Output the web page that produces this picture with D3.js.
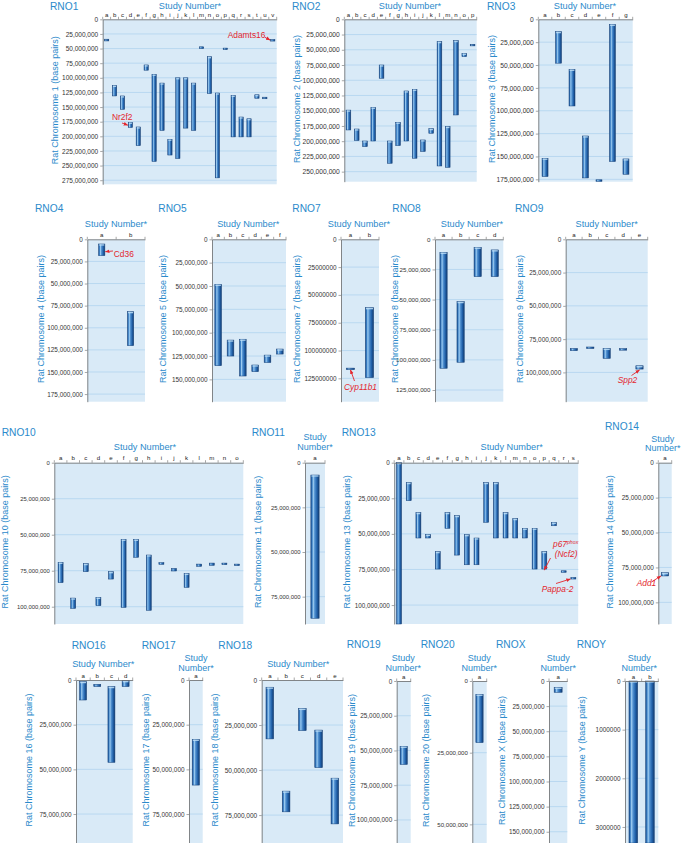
<!DOCTYPE html>
<html><head><meta charset="utf-8">
<script src="https://cdnjs.cloudflare.com/ajax/libs/d3/7.8.5/d3.min.js"></script>
<style>body{margin:0;background:#fff}text{font-family:"Liberation Sans",Arial,sans-serif}</style>
</head><body><svg id="c" width="683" height="843"></svg>
<script>
// ===== DATA (start / end positions in Mbp) =====
const rno1Studies = "abcdefghijklmnopqrstuv".split("");
const rno1Start = [34, 113, 131, 176, 184, 78, 94, 109, 205, 100, 100, 109, 47, 64, 126, 49.2, 130, 167, 170, 129, 133.1, 34.5];
const rno1End   = [37, 131, 154, 185, 216, 87, 243, 190, 232, 238, 186, 190, 50.2, 127, 271, 50.2, 201, 201, 201, 135, 134.0, 37];
const rno2Studies = "abcdefghijklmnop".split("");
const rno2Start = [149, 180, 199.7, 144.4, 75, 199.7, 169, 117.6, 114.9, 198, 179.4, 36.7, 176, 35, 55.8, 41];
const rno2End   = [181.6, 199, 209, 199.7, 96.8, 236.3, 207.3, 199.7, 228, 217, 187, 240.7, 243, 157, 61.3, 43.5];
const rno3Studies = "abcdefg".split("");
const rno3Start = [152, 13.5, 54.7, 127.6, 175.5, 5.5, 152.7];
const rno3End   = [172, 48, 94.8, 173.5, 177, 155.6, 169.5];
const rno4Studies = ["a", "b"];
const rno4Start = [5.3, 81.8];
const rno4End   = [18.5, 120.3];
const rno5Studies = "abcdef".split("");
const rno5Start = [48.2, 107.9, 107, 134.6, 124, 117.5];
const rno5End   = [135.4, 125, 146.4, 141.8, 132, 122.9];
const rno7Studies = ["a", "b"];
const rno7Start = [115.8, 61.5];
const rno7End   = [116.6, 124.4];
const rno8Studies = "abcd".split("");
const rno8Start = [10.8, 51.7, 6.6, 8.8];
const rno8End   = [107, 102, 31, 31];
const rno9Studies = "abcde".split("");
const rno9Start = [82, 80.9, 82, 82.1, 95];
const rno9End   = [83.7, 81.6, 89.5, 82.9, 97.5];
const rno10Studies = "abcdefghijklmno".split("");
const rno10Start = [69.2, 94, 70.1, 93.5, 75.7, 53.2, 53.2, 64.1, 69.4, 73.4, 76.9, 70.4, 69.7, 69.7, 70.4];
const rno10End   = [83.3, 101.2, 75.7, 99.3, 80.8, 100.5, 65.7, 102.5, 70.6, 75.2, 86.6, 72, 71.3, 70.8, 70.9];
const rno11Studies = ["a"];
const rno11Start = [6.9];
const rno11End   = [87.1];
const rno13Studies = "abcdefghijklmnopqrs".split("");
const rno13Start = [0, 14, 35.1, 50.4, 62.5, 35.1, 37.2, 50.6, 52.9, 14, 14, 35.1, 39.3, 46.1, 46.1, 62.5, 41.9, 75.9, 80.6];
const rno13End   = [113.3, 26.7, 52.9, 52.9, 74.7, 46.1, 64.9, 71.7, 71.7, 41.9, 52.9, 52.9, 52.9, 52.9, 74.7, 74.7, 44.3, 77, 81.7];
const rno14Studies = ["a"];
const rno14Start = [78.8];
const rno14End   = [81.1];
const rno16Studies = "abcd".split("");
const rno16Start = [0.9, 2.4, 3.7, 0.4];
const rno16End   = [11.2, 3.7, 46.1, 3.7];
const rno17Studies = ["a"];
const rno17Start = [33.2];
const rno17End   = [58.8];
const rno18Studies = "abcde".split("");
const rno18Start = [4, 61.7, 15.8, 27.8, 54.5];
const rno18End   = [32.7, 73.2, 28.1, 48.7, 79.9];
const rno19Studies = ["a"];
const rno19Start = [47];
const rno19End   = [60.1];
const rno20Studies = ["a"];
const rno20Start = [4.65];
const rno20End   = [21.5];
const rnoXStudies = ["a"];
const rnoXStart = [6.3];
const rnoXEnd   = [11.3];
const rnoYStudies = ["a", "b"];
const rnoYStart = [0, 0];
const rnoYEnd   = [3.34, 3.34];

// chromosome labels and axis extents (Mbp) / tick steps (Mbp)
const chromNames = ["1","2","3","4","5","7","8","9","10","11","13","14","16","17","18","19","20","X","Y"];
const axisMax  = [282, 266.5, 177.6, 183.6, 173.9, 146, 134.7, 122, 112, 90.3, 113.3, 115.5, 91.2, 91.2, 90.5, 116.6, 56.5, 161.2, 3.33];
const tickStep = [25, 25, 25, 25, 25, 25, 25, 25, 25, 25, 25, 25, 25, 25, 25, 25, 25, 25, 1];
const useComma = [1,1,1,1,1,0,1,1,1,1,1,1,1,1,1,1,1,1,0];
const seriesData = [
  [rno1Studies, rno1Start, rno1End], [rno2Studies, rno2Start, rno2End], [rno3Studies, rno3Start, rno3End],
  [rno4Studies, rno4Start, rno4End], [rno5Studies, rno5Start, rno5End], [rno7Studies, rno7Start, rno7End],
  [rno8Studies, rno8Start, rno8End], [rno9Studies, rno9Start, rno9End], [rno10Studies, rno10Start, rno10End],
  [rno11Studies, rno11Start, rno11End], [rno13Studies, rno13Start, rno13End], [rno14Studies, rno14Start, rno14End],
  [rno16Studies, rno16Start, rno16End], [rno17Studies, rno17Start, rno17End], [rno18Studies, rno18Start, rno18End],
  [rno19Studies, rno19Start, rno19End], [rno20Studies, rno20Start, rno20End], [rnoXStudies, rnoXStart, rnoXEnd],
  [rnoYStudies, rnoYStart, rnoYEnd]
];

// ===== LAYOUT (pixels) =====
const layout = [
  {x0:102.7,x1:276.7,y0:19.3,y1:184.3,tx:50,ty:9.5,sx:190,sy:9,yt:55,bw:4.3,fs:6.5},
  {x0:344.3,x1:476.7,y0:19.3,y1:181.7,tx:292,ty:9.5,sx:410,sy:9,yt:297,bw:4.7,fs:6.7},
  {x0:538.3,x1:632.7,y0:19.3,y1:181.7,tx:487,ty:9.5,sx:585,sy:9,yt:492,bw:6,fs:6.7},
  {x0:87.3,x1:145,y0:239.3,y1:401.7,tx:35,ty:211.7,sx:116,sy:226.7,yt:40.5,bw:6.3,fs:6.4},
  {x0:212,x1:286,y0:239.3,y1:401.7,tx:158.3,ty:211.7,sx:248.3,sy:226.7,yt:163,bw:6.7,fs:6.4},
  {x0:341,x1:379,y0:239.3,y1:401.7,tx:292.3,ty:211.7,sx:359,sy:226.7,yt:297,bw:8.3,fs:6.4},
  {x0:435,x1:503.3,y0:239.3,y1:401.7,tx:392.3,ty:211.7,sx:472,sy:226.7,yt:394.5,bw:7.3,fs:6.2},
  {x0:565.7,x1:647.7,y0:239.3,y1:401.7,tx:515,ty:211.7,sx:606.7,sy:226.7,yt:519.7,bw:7.3,fs:6.4},
  {x0:54.3,x1:243.3,y0:462.7,y1:624,tx:1.7,ty:436,sx:145,sy:450,yt:4.8,bw:5,fs:5.9},
  {x0:305,x1:325,y0:462.7,y1:624,tx:251.7,ty:436,sx:315,sy:440,sy2:450.2,yt:258,bw:8.3,fs:5.9},
  {x0:394.2,x1:578.2,y0:462.7,y1:624,tx:341.7,ty:436,sx:511.7,sy:450,yt:346.7,bw:5,fs:6.3},
  {x0:658.3,x1:671.7,y0:462.7,y1:624,tx:605,ty:430,sx:662.7,sy:441.5,sy2:451.3,yt:610,bw:7.3,fs:6.4},
  {x0:76,x1:132.7,y0:680,y1:843,tx:71.7,ty:648.6,sx:103.3,sy:666.7,yt:28.8,bw:7,fs:6.4},
  {x0:189,x1:202.7,y0:680,y1:843,tx:141.7,ty:648.6,sx:196,sy:660.5,sy2:670.5,yt:146.3,bw:7.3,fs:6.4},
  {x0:261.7,x1:343,y0:680,y1:843,tx:218.3,ty:648.6,sx:298.3,sy:666.7,yt:215.3,bw:7.7,fs:6.5},
  {x0:396.7,x1:410.7,y0:681,y1:843,tx:346.7,ty:648.3,sx:403.3,sy:660.5,sy2:670.5,yt:351.7,bw:7.3,fs:6.4},
  {x0:472.3,x1:486.7,y0:681,y1:843,tx:420.7,ty:648.3,sx:479.3,sy:660.5,sy2:670.5,yt:425.8,bw:7.3,fs:6.1},
  {x0:549,x1:567.3,y0:681,y1:843,tx:496,ty:648.3,sx:558.3,sy:660.5,sy2:670.5,yt:501.5,bw:8,fs:6.4},
  {x0:625,x1:658.3,y0:681,y1:843,tx:576.7,ty:648.3,sx:639.3,sy:660.5,sy2:670.5,yt:581.5,bw:8.7,fs:6.4}
];

const annotations = [
  {chrom:"1", study:"d", v:181, side:"left", text:"Nr2f2", italic:false, tx:112, ty:119.5, anchor:"start", from:[122,123]},
  {chrom:"1", study:"v", v:35.5, side:"left", text:"Adamts16", italic:false, tx:227.7, ty:38.3, anchor:"start", from:[265,37.3]},
  {chrom:"4", study:"a", v:14, side:"right", text:"Cd36", italic:false, tx:113.8, ty:256.8, anchor:"start", from:[113,251]},
  {chrom:"7", study:"a", v:116.6, side:"center", text:"Cyp11b1", italic:true, tx:360.5, ty:390, anchor:"middle", from:[354.5,381]},
  {chrom:"9", study:"e", v:97.5, side:"center", text:"Spp2", italic:true, tx:627.5, ty:383, anchor:"middle", from:[631.5,375.5]},
  {chrom:"13", study:"p", v:74.7, side:"center", text:"p67", sup:"phox", italic:true, tx:553, ty:546.7, anchor:"start", from:[550.5,558]},
  {chrom:"13", study:"p", v:null, text:"(Ncf2)", italic:true, tx:554.7, ty:556.7, anchor:"start"},
  {chrom:"13", study:"s", v:81.7, side:"left", text:"Pappa-2", italic:true, tx:541.7, ty:591.7, anchor:"start", from:[556,583.5]},
  {chrom:"14", study:"a", v:81.1, side:"left", text:"Add1", italic:true, tx:636.7, ty:585.7, anchor:"start", from:[651.5,582]}
];

const TITLE = "#2b8acb", BG = "#d9eaf7", GRID = "#b6d6ef", AXIS = "#6b6b6b", RED = "#e3262d";

const svg = d3.select("#c");
const defs = svg.append("defs");
const grad = defs.append("linearGradient").attr("id","barg").attr("x1","0").attr("x2","1").attr("y1","0").attr("y2","0");
[[0,"#184a88"],[0.14,"#3479c0"],[0.3,"#9ccbf0"],[0.46,"#5393d2"],[0.75,"#1f5fa8"],[1,"#143a6c"]]
  .forEach(([o,c]) => grad.append("stop").attr("offset",o).attr("stop-color",c));
defs.append("marker").attr("id","arr").attr("viewBox","0 0 10 10").attr("refX",9).attr("refY",5)
  .attr("markerWidth",5).attr("markerHeight",5).attr("orient","auto")
  .append("path").attr("d","M0,1 L10,5 L0,9 Z").attr("fill",RED);

const scales = {};

chromNames.forEach((name, i) => {
  const L = layout[i];
  const [studies, start, end] = seriesData[i];
  const x = d3.scaleBand().domain(studies).range([L.x0, L.x1]);
  const y = d3.scaleLinear().domain([0, axisMax[i]]).range([L.y0, L.y1]);
  scales[name] = {x, y, L};
  const g = svg.append("g");
  const ticks = d3.range(0, axisMax[i] + 1e-9, tickStep[i]);
  const fmt = useComma[i] ? d3.format(",") : d3.format("d");

  g.append("rect").attr("x", L.x0).attr("y", L.y0).attr("width", L.x1 - L.x0).attr("height", L.y1 - L.y0).attr("fill", BG);
  g.selectAll("line.grid").data(ticks.filter(t => t > 0)).join("line").attr("class","grid")
    .attr("x1", L.x0).attr("x2", L.x1).attr("y1", d => y(d)).attr("y2", d => y(d))
    .attr("stroke", GRID).attr("stroke-width", 0.9);

  const rows = studies.map((s, k) => ({s, a: start[k], b: end[k]}));
  const bx = d => x(d.s) + x.bandwidth() / 2 - L.bw / 2;
  const by = d => y(d.a);
  const bh = d => Math.max(1.6, Math.min(y(d.b), L.y1) - y(d.a));
  g.selectAll("rect.bar").data(rows).join("rect").attr("class","bar")
    .attr("x", bx).attr("y", by).attr("width", L.bw).attr("height", bh)
    .attr("fill", "url(#barg)").attr("stroke", "#17427a").attr("stroke-width", 0.5);
  g.selectAll("rect.cap").data(rows.filter(d => bh(d) > 3)).join("rect").attr("class","cap")
    .attr("x", d => bx(d) + 0.6).attr("y", d => by(d) + 0.3).attr("width", L.bw - 1.2).attr("height", 1.3)
    .attr("fill", "#bfe0f8").attr("opacity", 0.85);

  const ay = g.append("g").attr("transform", `translate(${L.x0},0)`)
    .call(d3.axisLeft(y).tickValues(ticks).tickSize(2.5).tickSizeOuter(0).tickPadding(2)
      .tickFormat(t => fmt(Math.round(t * 1e6))));
  ay.select(".domain").attr("stroke", AXIS).attr("stroke-width", 0.8);
  ay.selectAll(".tick line").attr("stroke", AXIS).attr("stroke-width", 0.6);
  ay.selectAll(".tick text").attr("font-size", L.fs).attr("fill", "#333").attr("font-family", null);

  const ax = g.append("g").attr("transform", `translate(0,${L.y0})`)
    .call(d3.axisTop(x).tickSize(0).tickPadding(2.4));
  ax.select(".domain").attr("stroke", AXIS).attr("stroke-width", 0.8);
  ax.selectAll(".tick text").attr("font-size", 6.1).attr("fill", "#222").attr("font-family", null);
  const bounds = studies.map(s => x(s)).concat([L.x1]);
  g.selectAll("line.bt").data(bounds).join("line").attr("class","bt")
    .attr("x1", d => d).attr("x2", d => d).attr("y1", L.y0).attr("y2", L.y0 - 2.5)
    .attr("stroke", AXIS).attr("stroke-width", 0.6);

  g.append("text").attr("x", L.tx).attr("y", L.ty).attr("font-size", 10.2).attr("fill", TITLE).text("RNO" + name);
  if (L.sy2) {
    g.append("text").attr("x", L.sx).attr("y", L.sy).attr("text-anchor","middle").attr("font-size", 9).attr("fill", TITLE).text("Study");
    g.append("text").attr("x", L.sx).attr("y", L.sy2).attr("text-anchor","middle").attr("font-size", 9).attr("fill", TITLE).text("Number*");
  } else {
    g.append("text").attr("x", L.sx).attr("y", L.sy).attr("text-anchor","middle").attr("font-size", 9.2).attr("fill", TITLE).text("Study Number*");
  }
  const cy = (L.y0 + L.y1) / 2 - 1.5;
  g.append("text").attr("transform", `translate(${L.yt},${cy}) rotate(-90)`)
    .attr("text-anchor","middle").attr("dominant-baseline","central")
    .attr("font-size", 9).attr("fill", TITLE).text(`Rat Chromosome ${name} (base pairs)`);
});

annotations.forEach(a => {
  const t = svg.append("text").attr("x", a.tx).attr("y", a.ty).attr("text-anchor", a.anchor)
    .attr("font-size", 8.4).attr("fill", RED).attr("font-style", a.italic ? "italic" : "normal").text(a.text);
  if (a.sup) t.append("tspan").attr("font-size", 5.2).attr("dy", -3.2).text(a.sup);
  if (a.v == null) return;
  const S = scales[a.chrom];
  const cx = S.x(a.study) + S.x.bandwidth() / 2;
  const tx = a.side === "left" ? cx - S.L.bw / 2 - 0.5 : a.side === "right" ? cx + S.L.bw / 2 + 0.5 : cx;
  const ty = S.y(a.v) + (a.side === "center" ? 1 : 0);
  svg.append("line").attr("x1", a.from[0]).attr("y1", a.from[1]).attr("x2", tx).attr("y2", ty)
    .attr("stroke", RED).attr("stroke-width", 0.9).attr("marker-end", "url(#arr)");
});
</script></body></html>
